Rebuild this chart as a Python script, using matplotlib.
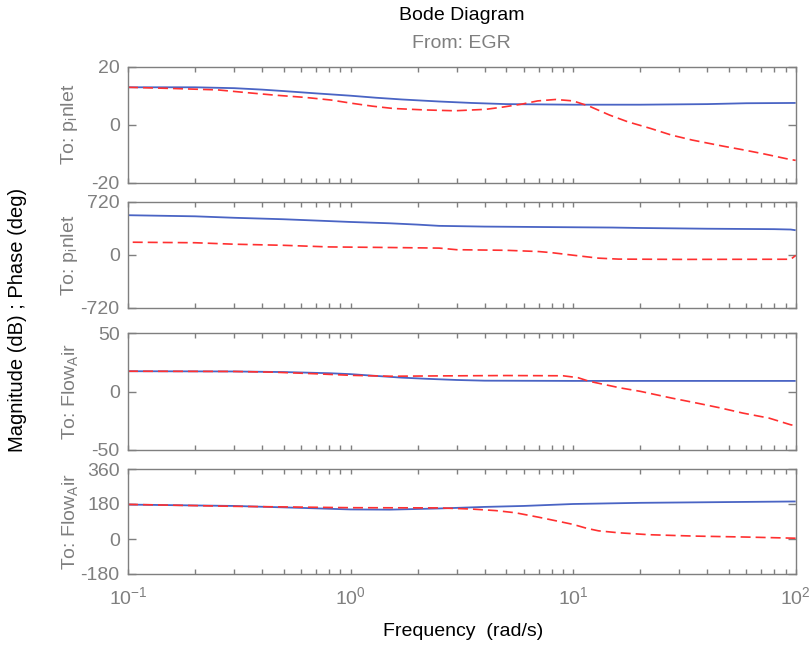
import numpy as np
import matplotlib
matplotlib.use("Agg")
import matplotlib.pyplot as plt
from matplotlib.ticker import LogLocator, NullFormatter, LogFormatterSciNotation

plt.rcParams['font.family'] = ['Liberation Sans Narrow', 'Liberation Sans', 'DejaVu Sans']
plt.rcParams['mathtext.default'] = 'regular'
plt.rcParams['axes.unicode_minus'] = False

# ---------------- data ----------------
# Panel 1: magnitude (dB) to p_inlet
f_mag1_blue = [0.1, 0.2, 0.3, 0.4, 0.5, 0.7, 1.0, 1.3, 1.7, 2.5, 3.5, 5, 10, 20, 40, 60, 100]
mag1_blue = [12.9, 12.9, 12.6, 12.1, 11.6, 10.8, 10.0, 9.3, 8.7, 8.0, 7.5, 7.1, 6.9, 6.9, 7.1, 7.4, 7.5]
f_mag1_red = [0.1, 0.157, 0.253, 0.348, 0.455, 0.627, 0.818, 1.01, 1.25, 1.55, 2.14, 2.94, 4.05,
              4.76, 5.89, 6.92, 8.34, 10.0, 11.8, 14.6, 17.6, 22.3, 27.7, 34.3, 47.2, 58.4, 72.3, 94.4, 100]
mag1_red = [12.9, 12.5, 12.0, 11.0, 10.2, 9.4, 8.5, 7.4, 6.4, 5.6, 5.1, 4.8, 5.3,
            6.0, 7.1, 8.2, 8.7, 8.2, 6.4, 3.3, 1.0, -1.3, -3.6, -5.3, -7.4, -8.7, -10.1, -12.0, -12.3]

# Panel 2: phase (deg) to p_inlet
f_ph1_blue = [0.1, 0.2, 0.3, 0.5, 0.8, 1.0, 1.5, 2.0, 2.5, 4, 8, 15, 20, 40, 80, 95, 100]
ph1_blue = [540, 525, 505, 485, 460, 448, 430, 412, 395, 385, 378, 372, 366, 356, 350, 345, 335]
f_ph1_red = [0.105, 0.2, 0.3, 0.5, 0.8, 1.5, 2.5, 3.0, 5, 7, 8, 10, 13, 16, 30, 95, 100]
ph1_red = [172, 165, 145, 130, 108, 100, 92, 70, 62, 45, 30, -5, -45, -58, -62, -60, -8]

# Panel 3: magnitude (dB) to Flow_Air
f_mag2_blue = [0.1, 0.3, 0.5, 0.8, 1.0, 1.3, 1.7, 2.2, 3.0, 4.0, 10, 100]
mag2_blue = [17.5, 17.3, 16.8, 15.8, 15.0, 13.5, 12.0, 11.0, 10.0, 9.4, 9.2, 9.2]
f_mag2_red = [0.1, 0.3, 0.45, 0.7, 1.0, 1.5, 2.5, 5, 9, 10.5, 11.8, 16.3, 20, 27.7, 36, 46, 58, 76, 95, 100]
mag2_red = [17.5, 17.3, 16.7, 15.3, 14.0, 13.2, 13.5, 13.8, 13.6, 12.0, 8.9, 3.2, 0.3, -5.5, -9.8,
            -14.0, -18.4, -22.7, -28.4, -29.2]

# Panel 4: phase (deg) to Flow_Air
f_ph2_blue = [0.1, 0.3, 0.6, 1.0, 1.5, 2.5, 4, 6, 10, 20, 50, 100]
ph2_blue = [177, 170, 160, 152, 151, 157, 165, 170, 180, 186, 190, 193]
f_ph2_red = [0.1, 0.3, 1.0, 2.5, 3.5, 4.5, 5.5, 7, 8.5, 10, 11.5, 13, 16, 22, 35, 60, 100]
ph2_red = [178, 168, 161, 160, 154, 146, 135, 112, 92, 75, 55, 42, 32, 22, 15, 10, 4]

row_labels = ["To: p$_{i}$nlet", "To: p$_{i}$nlet", "To: Flow$_{A}$ir", "To: Flow$_{A}$ir"]
y_limits = [(-20, 20), (-720, 720), (-50, 50), (-180, 360)]
y_ticks = [[-20, 0, 20], [-720, 0, 720], [-50, 0, 50], [-180, 0, 180, 360]]
x_limits = (0.1, 100)

title = "Bode Diagram"
subtitle = "From: EGR"
ylabel = "Magnitude (dB) ; Phase (deg)"
xlabel = "Frequency  (rad/s)"

# ---------------- layout ----------------
W, H = 809, 645
fig = plt.figure(figsize=(W / 100, H / 100), dpi=100)
fig.patch.set_facecolor('white')

left_px, right_px = 128, 795.7
panels_px = [(66.7, 182.7), (202, 307.7), (333.3, 450), (469, 574)]
axw = right_px - left_px

grey = '#7f7f7f'
blue = '#4a64c4'
red = '#ff3030'

series = [
    (f_mag1_blue, mag1_blue, f_mag1_red, mag1_red),
    (f_ph1_blue, ph1_blue, f_ph1_red, ph1_red),
    (f_mag2_blue, mag2_blue, f_mag2_red, mag2_red),
    (f_ph2_blue, ph2_blue, f_ph2_red, ph2_red),
]

for i, (top, bot) in enumerate(panels_px):
    ax = fig.add_axes([left_px / W, 1 - bot / H, axw / W, (bot - top) / H])
    fb, vb, fr, vr = series[i]
    ax.plot(fb, vb, color=blue, lw=1.3, solid_capstyle='butt')
    ln, = ax.plot(fr, vr, color=red, lw=1.2)
    ln.set_dashes((6, 3))
    ax.set_xscale('log')
    ax.set_xlim(*x_limits)
    ax.set_ylim(*y_limits[i])
    ax.set_yticks(y_ticks[i])
    ax.yaxis.set_major_formatter(matplotlib.ticker.FuncFormatter(lambda v, p: f"{int(v)}"))
    ax.xaxis.set_major_locator(LogLocator(base=10, numticks=10))
    ax.xaxis.set_minor_locator(LogLocator(base=10, subs=np.arange(2, 10), numticks=10))
    ax.xaxis.set_minor_formatter(NullFormatter())
    for sp in ax.spines.values():
        sp.set_color(grey)
        sp.set_linewidth(1.0)
    ax.tick_params(axis='both', which='both', direction='in', top=True, right=True,
                   colors=grey, labelcolor=grey, width=1.0)
    ax.tick_params(axis='x', which='both', length=3.5)
    ax.tick_params(axis='y', which='major', length=6, labelsize=14, pad=6)
    ax.tick_params(axis='x', which='major', labelsize=14, pad=9)
    if i < 3:
        ax.tick_params(axis='x', which='both', labelbottom=False)
    else:
        ax.xaxis.set_major_formatter(LogFormatterSciNotation())
    ax.set_ylabel(row_labels[i], color=grey, fontsize=14)
    ax.yaxis.set_label_coords(-48 / axw, 0.5)

fig.text((left_px + right_px) / 2 / W, 1 - 16 / H, title, ha='center', va='center',
         fontsize=14, color='black')
fig.text((left_px + right_px) / 2 / W, 1 - 44 / H, subtitle, ha='center', va='center',
         fontsize=14, color=grey)
fig.text(18 / W, 1 - 320 / H, ylabel, rotation=90, ha='center', va='center',
         fontsize=14.5, color='black')
fig.text(463 / W, 1 - 632 / H, xlabel, ha='center', va='center', fontsize=14, color='black')

fig.savefig('out.png', dpi=100, facecolor='white')
